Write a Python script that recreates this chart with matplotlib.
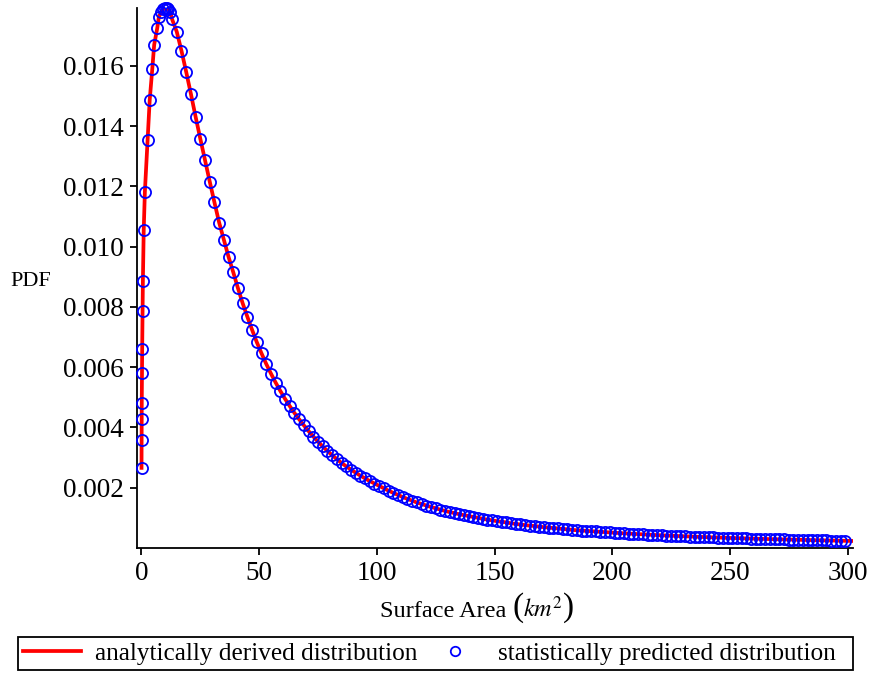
import matplotlib
matplotlib.use("Agg")
import matplotlib.pyplot as plt

# ---- data ----
# statistically predicted distribution (hollow blue circles)
area_left = [0.02, 0.05, 0.08, 0.12, 0.2, 0.3, 0.45, 0.6, 0.95, 1.45,
             2.6, 3.5, 4.6, 5.4, 6.7, 7.4, 8.5, 9.3, 10.0, 10.7, 11.4, 12.2]
pdf_left = [0.00266, 0.00359, 0.00428, 0.00481, 0.00581, 0.00660, 0.00786, 0.00885, 0.01054, 0.01183,
            0.01355, 0.01487, 0.01590, 0.01670, 0.01725, 0.01763, 0.01780, 0.01788, 0.01792, 0.01792, 0.01790, 0.01778]

# right of the peak the points sit every 2 km^2 (13, 15, ..., 299)
area_right = list(range(13, 300, 2))
pdf_right = [
    0.01755, 0.01713, 0.01650, 0.01580, 0.01507, 0.01431, 0.01358, 0.01287, 0.01216, 0.01147,   # 13-31
    0.01080, 0.01023, 0.00966, 0.00915, 0.00862, 0.00812, 0.00767, 0.00724, 0.00683, 0.00646,   # 33-51
    0.00611, 0.00579, 0.00549, 0.00521, 0.00495, 0.00471, 0.00448, 0.00427, 0.00407, 0.00388,   # 53-71
    0.00370, 0.00353, 0.00337, 0.00322, 0.00308, 0.00295, 0.00282, 0.00271, 0.00260, 0.00250,   # 73-91
    0.00240, 0.00231, 0.00222, 0.00214, 0.00206, 0.00198, 0.00190, 0.00183, 0.00176, 0.00169,   # 93-111
    0.00163, 0.00157, 0.00151, 0.00146, 0.00141, 0.00136, 0.00132, 0.00127, 0.00123, 0.00119,   # 113-131
    0.00116, 0.00112, 0.00109, 0.00106, 0.00103, 0.00100, 0.00097, 0.00094, 0.00092, 0.00089,   # 133-151
    0.00087, 0.00085, 0.00082, 0.00080, 0.00078, 0.00076, 0.00074, 0.00073, 0.00071, 0.00069,   # 153-171
    0.00068, 0.00066, 0.00065, 0.00063, 0.00062, 0.00060, 0.00059, 0.00058, 0.00057, 0.000560,  # 173-191
    0.000548, 0.000537, 0.000526, 0.000516, 0.000506, 0.000496, 0.000487, 0.000478, 0.000469, 0.000460,  # 193-211
    0.000452, 0.000444, 0.000436, 0.000428, 0.000421, 0.000414, 0.000407, 0.000400, 0.000393, 0.000387,  # 213-231
    0.000381, 0.000375, 0.000369, 0.000363, 0.000357, 0.000352, 0.000346, 0.000341, 0.000336, 0.000331,  # 233-251
    0.000326, 0.000321, 0.000316, 0.000312, 0.000307, 0.000303, 0.000299, 0.000295, 0.000291, 0.000287,  # 253-271
    0.000283, 0.000279, 0.000275, 0.000271, 0.000268, 0.000264, 0.000261, 0.000257, 0.000254, 0.000251,  # 273-291
    0.000248, 0.000245, 0.000242, 0.000239,                                                      # 293-299
]

area_pts = area_left + area_right
pdf_pts = pdf_left + pdf_right

# analytically derived distribution (red curve) - runs a bit past the last point
area_curve = area_pts + [302]
pdf_curve = pdf_pts + [0.000234]

y_ticks = [0.002, 0.004, 0.006, 0.008, 0.010, 0.012, 0.014, 0.016]
x_ticks = [0, 50, 100, 150, 200, 250, 300]

W, H = 874, 675

# ---- style ----
plt.rcParams["font.family"] = ["Liberation Serif", "DejaVu Serif"]
plt.rcParams["mathtext.fontset"] = "stix"

fig = plt.figure(figsize=(W / 100, H / 100), dpi=100)
ax = fig.add_axes([137 / W, 1 - 548 / H, (853 - 137) / W, (548 - 8) / H])

ax.plot(area_curve, pdf_curve, color="#ff0000", linewidth=2.7, zorder=2,
        label="analytically derived distribution")
ax.plot(area_pts, pdf_pts, linestyle="none", marker="o", markersize=8,
        markerfacecolor="none", markeredgecolor="#0000ff", markeredgewidth=1.3,
        clip_on=False, zorder=3, label="statistically predicted distribution  ")

ax.set_xlim(-1.9, 302.3)
ax.set_ylim(0, 0.01792)
ax.set_xticks(x_ticks)
ax.set_yticks(y_ticks)
ax.set_yticklabels([f"{v:.3f}" for v in y_ticks])

for side in ["top", "right"]:
    ax.spines[side].set_visible(False)
ax.spines["left"].set_linewidth(1.3)
ax.spines["bottom"].set_linewidth(1.3)
ax.tick_params(direction="out", length=5, width=1.3, labelsize=19.5, pad=4.5)

# x label: Maple draws tall parentheses round the unit, so build it in pieces
fig.text(380 / W, 1 - 617 / H, "Surface Area", fontsize=17.5, va="baseline", ha="left")
fig.text(512 / W, 1 - 616 / H, "(", fontsize=24, va="baseline", ha="left")
fig.text(523 / W, 1 - 617 / H, r"$km^{2}$", fontsize=17.5, va="baseline", ha="left")
fig.text(563 / W, 1 - 616 / H, ")", fontsize=24, va="baseline", ha="left")

fig.text(10 / W, 1 - 281 / H, "PDF", fontsize=16, va="center", ha="left")

leg = fig.legend(loc="lower left", bbox_to_anchor=(13 / W, 0.0), ncol=2, fontsize=18.2,
                 frameon=True, fancybox=False, edgecolor="black", framealpha=1,
                 handlelength=2.3, handletextpad=0.55, columnspacing=0.32,
                 borderpad=0.2, borderaxespad=0.2, numpoints=1, markerscale=0.85)
leg.get_frame().set_linewidth(1.3)

fig.savefig("out.png", dpi=100)
